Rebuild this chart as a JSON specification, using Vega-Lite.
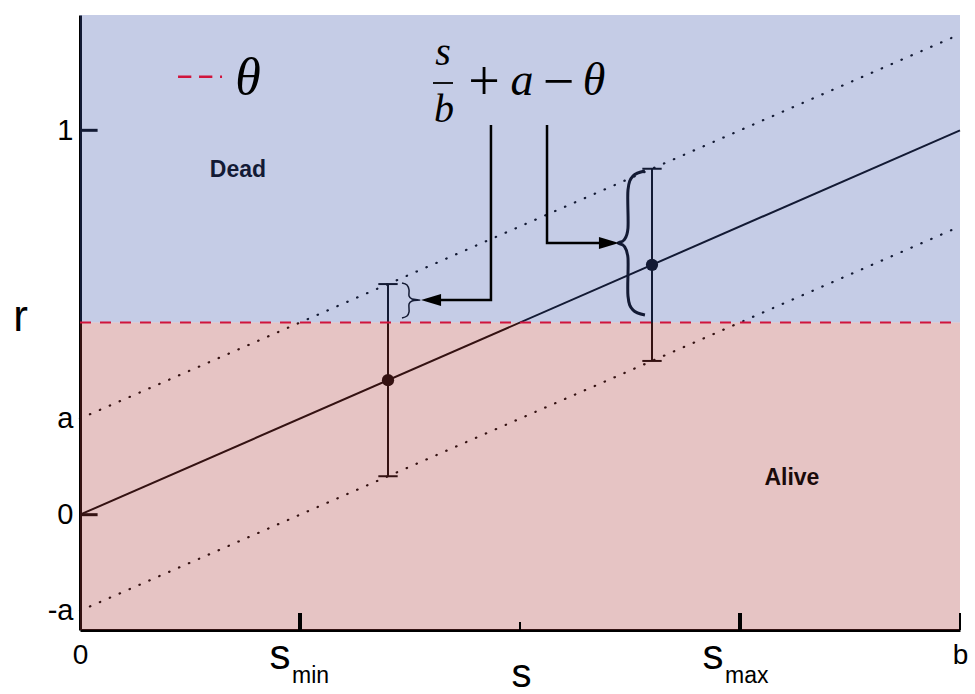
{
"$schema": "https://vega.github.io/schema/vega-lite/v6.json",
"width": 880, "height": 615,
"autosize": {"type": "none"},
"padding": {"left": 80, "top": 15, "right": 15, "bottom": 64},
"background": "white",
"config": {"view": {"stroke": null}, "axis": {"grid": false}},
"datasets": {
"main": [{"s": 0, "r": 0}, {"s": 1, "r": 1}],
"dotted": [{"s": 0, "r": 0.25, "g": "up"}, {"s": 1, "r": 1.25, "g": "up"}, {"s": 0, "r": -0.25, "g": "lo"}, {"s": 1, "r": 0.75, "g": "lo"}],
"points": [{"s": 0.35, "r": 0.35}, {"s": 0.65, "r": 0.65}],
"bars": [{"s": 0.35, "r": 0.1, "r2": 0.6}, {"s": 0.65, "r": 0.4, "r2": 0.9}],
"caps": [{"s": 0.339, "s2": 0.361, "r": 0.1}, {"s": 0.339, "s2": 0.361, "r": 0.6}, {"s": 0.639, "s2": 0.661, "r": 0.4}, {"s": 0.639, "s2": 0.661, "r": 0.9}],
"braceBig": [
{"i": 1, "s": 0.642, "r": 0.8941}, {"i": 2, "s": 0.6284, "r": 0.8811}, {"i": 3, "s": 0.6227, "r": 0.8447}, {"i": 4, "s": 0.6227, "r": 0.7458}, {"i": 5, "s": 0.6182, "r": 0.7146}, {"i": 6, "s": 0.6114, "r": 0.7068}, {"i": 7, "s": 0.6182, "r": 0.699}, {"i": 8, "s": 0.6227, "r": 0.6678}, {"i": 9, "s": 0.6227, "r": 0.5689}, {"i": 10, "s": 0.6284, "r": 0.5325}, {"i": 11, "s": 0.642, "r": 0.5195}],
"braceSmall": [
{"i": 1, "s": 0.3659, "r": 0.6028}, {"i": 2, "s": 0.3716, "r": 0.5976}, {"i": 3, "s": 0.3739, "r": 0.5846}, {"i": 4, "s": 0.3739, "r": 0.569}, {"i": 5, "s": 0.3773, "r": 0.5612}, {"i": 6, "s": 0.3864, "r": 0.5586}, {"i": 7, "s": 0.3773, "r": 0.556}, {"i": 8, "s": 0.3739, "r": 0.5482}, {"i": 9, "s": 0.3739, "r": 0.5274}, {"i": 10, "s": 0.3716, "r": 0.517}, {"i": 11, "s": 0.3659, "r": 0.5118}],
"yticks": [{"s": 0, "s2": 0.02, "r": 1}, {"s": 0, "s2": 0.02, "r": 0}],
"regions": [{"s": 0, "s2": 1, "r": 0.5, "r2": 1.3, "zone": "Dead"}, {"s": 0, "s2": 1, "r": -0.3, "r2": 0.5, "zone": "Alive"}],
"theta": [{"s": 0, "r": 0.5}, {"s": 1, "r": 0.5}],
"xticksThick": [{"s": 0.25, "r": -0.3, "r2": -0.2558}, {"s": 0.75, "r": -0.3, "r2": -0.2558}],
"xticksThin": [{"s": 0.5, "r": -0.3, "r2": -0.2792}, {"s": 1, "r": -0.3, "r2": -0.2558}],
"arrows": [{"g": 1, "i": 1, "s": 0.467, "r": 1.0138}, {"g": 1, "i": 2, "s": 0.467, "r": 0.5586}, {"g": 1, "i": 3, "s": 0.4102, "r": 0.5586}, {"g": 2, "i": 1, "s": 0.5307, "r": 1.0138}, {"g": 2, "i": 2, "s": 0.5307, "r": 0.7068}, {"g": 2, "i": 3, "s": 0.5909, "r": 0.7068}],
"headLeft": [{"s": 0.3989, "r": 0.5586}],
"headRight": [{"s": 0.6011, "r": 0.7068}],
"legendLine": [{"s": 0.1114, "r": 1.1394}, {"s": 0.1614, "r": 1.1394}],
"fracBar": [{"s": 0.4011, "s2": 0.4239, "r": 1.1231}],
"fracText": [{"t": "s", "s": 0.4125, "r": 1.1699}, {"t": "b", "s": 0.4136, "r": 1.0216}],
"mathText": [{"t": "a", "s": 0.5023, "r": 1.0918}, {"t": "θ", "s": 0.5841, "r": 1.0918}],
"legendTheta": [{"t": "θ", "s": 0.1909, "r": 1.0944}],
"ops": [{"t": "+", "s": 0.4591, "r": 1.1231}, {"t": "−", "s": 0.5438, "r": 1.1231}],
"dead": [{"t": "Dead", "s": 0.1795, "r": 0.8967}],
"alive": [{"t": "Alive", "s": 0.809, "r": 0.0955}],
"sBig": [{"t": "s", "s": 0.2273, "r": -0.4014}, {"t": "s", "s": 0.7193, "r": -0.4014}],
"sSub": [{"t": "min", "s": 0.2409, "r": -0.4378}, {"t": "max", "s": 0.733, "r": -0.4378}]
},
"encoding": {
"x": {"field": "s", "type": "quantitative", "scale": {"domain": [0, 1], "nice": false, "zero": false},
 "axis": {"values": [0, 1], "labelExpr": "datum.value < 0.5 ? '0' : 'b'", "ticks": false, "tickSize": 0, "domainColor": "black", "domainWidth": 3, "labelFont": "Liberation Sans", "labelFontSize": 28, "labelColor": "black", "labelPadding": 11, "labelFlush": false, "title": "s", "titleFont": "Liberation Sans", "titleFontSize": 40, "titleFontWeight": "normal", "titleColor": "black", "titleX": 441, "titleY": 56, "titleAlign": "center", "titleBaseline": "alphabetic", "grid": false}},
"y": {"field": "r", "type": "quantitative", "scale": {"domain": [-0.3, 1.3], "nice": false, "zero": false},
 "axis": {"values": [-0.25, 0, 0.25, 1], "labelExpr": "datum.value > 0.5 ? '1' : datum.value > 0.1 ? 'a' : datum.value > -0.1 ? '0' : '-a'", "ticks": false, "tickSize": 0, "domainColor": "black", "domainWidth": 3, "labelFont": "Liberation Sans", "labelFontSize": 29, "labelColor": "black", "labelPadding": 7, "labelFlush": false, "title": "r", "titleAngle": 0, "titleFont": "Liberation Sans", "titleFontSize": 44, "titleFontWeight": "normal", "titleColor": "black", "titleX": -60, "titleY": 315, "titleAlign": "center", "titleBaseline": "alphabetic", "grid": false}}
},
"layer": [
{"data": {"name": "main"}, "mark": {"type": "line", "color": "black", "strokeWidth": 2}, "encoding": {}},
{"data": {"name": "dotted"}, "mark": {"type": "line", "color": "black", "strokeWidth": 2.2, "strokeDash": [0.5, 10.3], "strokeCap": "round"}, "encoding": {"detail": {"field": "g"}}},
{"data": {"name": "bars"}, "mark": {"type": "rule", "color": "black", "strokeWidth": 2}, "encoding": {"y2": {"field": "r2"}}},
{"data": {"name": "caps"}, "mark": {"type": "rule", "color": "black", "strokeWidth": 2}, "encoding": {"x2": {"field": "s2"}}},
{"data": {"name": "points"}, "mark": {"type": "point", "filled": true, "color": "black", "size": 150, "opacity": 1}, "encoding": {}},
{"data": {"name": "braceBig"}, "mark": {"type": "line", "color": "black", "strokeWidth": 3, "interpolate": "cardinal"}, "encoding": {"order": {"field": "i"}}},
{"data": {"name": "braceSmall"}, "mark": {"type": "line", "color": "black", "strokeWidth": 1.5, "interpolate": "cardinal"}, "encoding": {"order": {"field": "i"}}},
{"data": {"name": "dead"}, "mark": {"type": "text", "color": "black", "font": "Liberation Sans", "fontWeight": "bold", "fontSize": 23, "align": "center", "baseline": "middle"}, "encoding": {"text": {"field": "t"}}},
{"data": {"name": "yticks"}, "mark": {"type": "rule", "color": "black", "strokeWidth": 3}, "encoding": {"x2": {"field": "s2"}}},
{"data": {"name": "regions"}, "mark": {"type": "rect", "opacity": 0.3}, "encoding": {"x2": {"field": "s2"}, "y2": {"field": "r2"}, "color": {"field": "zone", "type": "nominal", "scale": {"domain": ["Dead", "Alive"], "range": ["#3e55ac", "#ac3a3a"]}, "legend": null}}},
{"data": {"name": "theta"}, "mark": {"type": "line", "color": "#d0143c", "strokeWidth": 2, "strokeDash": [11, 9]}, "encoding": {}},
{"data": {"name": "xticksThick"}, "mark": {"type": "rule", "color": "black", "strokeWidth": 4}, "encoding": {"y2": {"field": "r2"}}},
{"data": {"name": "xticksThin"}, "mark": {"type": "rule", "color": "black", "strokeWidth": 2}, "encoding": {"y2": {"field": "r2"}}},
{"data": {"name": "arrows"}, "mark": {"type": "line", "color": "black", "strokeWidth": 2.5}, "encoding": {"detail": {"field": "g"}, "order": {"field": "i"}}},
{"data": {"name": "headLeft"}, "mark": {"type": "point", "shape": "M-1,0L1,-0.6L1,0.6Z", "filled": true, "color": "black", "size": 400, "opacity": 1, "strokeWidth": 0}, "encoding": {}},
{"data": {"name": "headRight"}, "mark": {"type": "point", "shape": "M1,0L-1,-0.6L-1,0.6Z", "filled": true, "color": "black", "size": 400, "opacity": 1, "strokeWidth": 0}, "encoding": {}},
{"data": {"name": "legendLine"}, "mark": {"type": "line", "color": "#d0143c", "strokeWidth": 2.5, "strokeDash": [13.3, 7.7]}, "encoding": {}},
{"data": {"name": "fracBar"}, "mark": {"type": "rule", "color": "black", "strokeWidth": 1.8}, "encoding": {"x2": {"field": "s2"}}},
{"data": {"name": "fracText"}, "mark": {"type": "text", "color": "black", "font": "Liberation Serif", "fontStyle": "italic", "fontSize": 40, "align": "center", "baseline": "alphabetic"}, "encoding": {"text": {"field": "t"}}},
{"data": {"name": "mathText"}, "mark": {"type": "text", "color": "black", "font": "Liberation Serif", "fontStyle": "italic", "fontSize": 46, "align": "center", "baseline": "alphabetic"}, "encoding": {"text": {"field": "t"}}},
{"data": {"name": "legendTheta"}, "mark": {"type": "text", "color": "black", "font": "Liberation Serif", "fontStyle": "italic", "fontSize": 52, "align": "center", "baseline": "alphabetic"}, "encoding": {"text": {"field": "t"}}},
{"data": {"name": "ops"}, "mark": {"type": "text", "color": "black", "font": "Liberation Serif", "fontSize": 56, "align": "center", "baseline": "middle"}, "encoding": {"text": {"field": "t"}}},
{"data": {"name": "alive"}, "mark": {"type": "text", "color": "#1a0a0a", "font": "Liberation Sans", "fontWeight": "bold", "fontSize": 23, "align": "center", "baseline": "middle"}, "encoding": {"text": {"field": "t"}}},
{"data": {"name": "sBig"}, "mark": {"type": "text", "color": "black", "font": "Liberation Sans", "fontSize": 42, "align": "center", "baseline": "alphabetic"}, "encoding": {"text": {"field": "t"}}},
{"data": {"name": "sSub"}, "mark": {"type": "text", "color": "black", "font": "Liberation Sans", "fontSize": 23, "align": "left", "baseline": "alphabetic"}, "encoding": {"text": {"field": "t"}}}
]
}
